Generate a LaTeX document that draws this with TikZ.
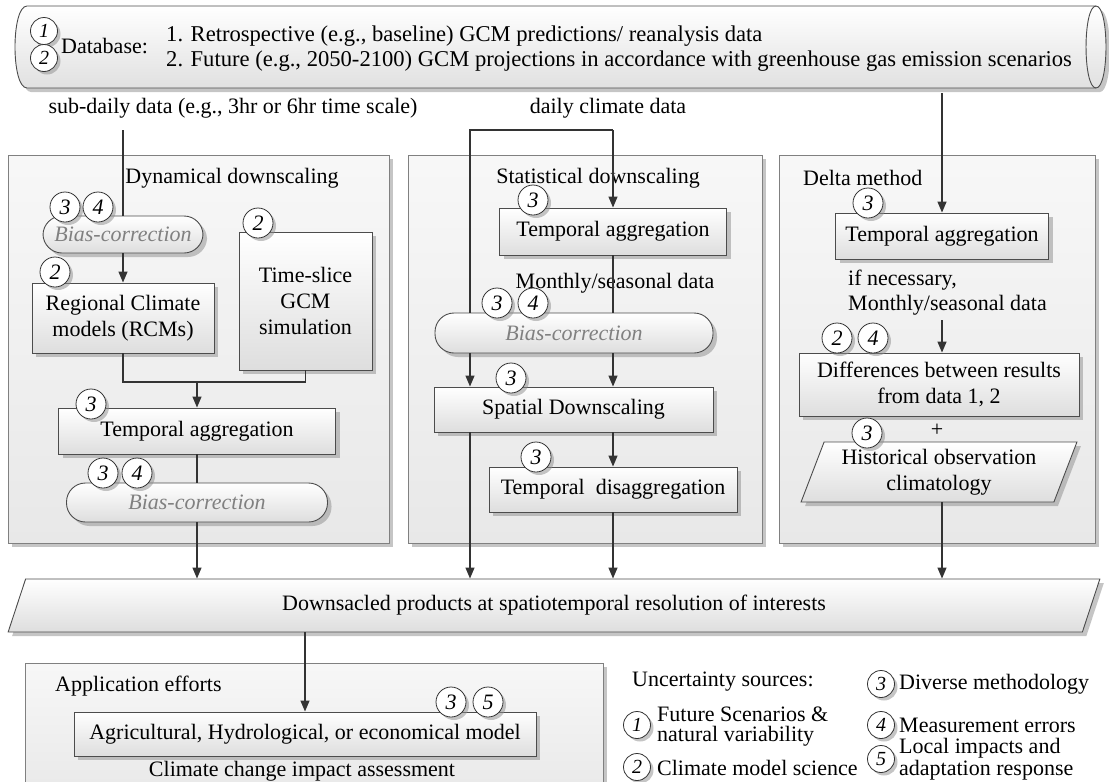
\documentclass[tikz,border=0pt]{standalone}
\usepackage{fontspec}
\setmainfont{Liberation Serif}
\usetikzlibrary{shapes.geometric,shadows,arrows.meta,calc}
\begin{document}
\begin{tikzpicture}[x=1pt,y=-1pt,
  font=\fontsize{22}{26}\selectfont,
  ln/.style={draw=black!80, line width=1.3pt},
  arr/.style={ln, -{Triangle[length=11pt,width=9pt]}},
  shad/.style={drop shadow={shadow xshift=4pt,shadow yshift=-4pt,fill=black!45,opacity=0.5}},
  container/.style={draw=black!50, line width=0.8pt, top color=black!3, bottom color=black!9, shad, inner sep=0},
  box/.style={draw=black!70, line width=0.9pt, top color=white, bottom color=black!13, shad, align=center, inner sep=0},
  bias/.style={box, rounded corners=19pt, font=\fontsize{22}{26}\selectfont\itshape, text=black!50},
  cn/.style={circle, draw=black!80, line width=0.8pt, fill=white, minimum size=30pt, inner sep=0,
    font=\fontsize{22}{22}\selectfont\itshape,
    drop shadow={shadow xshift=3pt,shadow yshift=-3pt,fill=black!45,opacity=0.5}},
  cns/.style={cn, minimum size=27pt, font=\fontsize{20}{20}\selectfont\itshape},
  lab/.style={inner sep=0, align=center},
  labl/.style={inner sep=0, anchor=west, align=left},
]
\useasboundingbox (0,0) rectangle (1109,782);

% ---------- database cylinder ----------
\path[shad, draw=black!70, line width=0.9pt, top color=white, bottom color=black!12]
  (27,6) -- (1096,6) .. controls (1109.3,6) and (1109.3,88) .. (1096,88)
  -- (27,88) .. controls (11,88) and (11,6) .. (27,6) -- cycle;
\draw[black!70, line width=0.9pt] (1096,6) .. controls (1082.7,6) and (1082.7,88) .. (1096,88);
\node[cns] (db1) at (44,31) {1};
\node[cns] (db2) at (44,58) {2};
\node[labl] (dbl) at (61,46) {Database:};
\node[labl, font=\fontsize{22.6}{26}\selectfont] (dl1) at (166,36) {1. Retrospective (e.g., baseline) GCM predictions/ reanalysis data};
\node[labl, font=\fontsize{22.6}{26}\selectfont] (dl2) at (166,61) {2. Future (e.g., 2050-2100) GCM projections in accordance with greenhouse gas emission scenarios};

% ---------- containers ----------
\node[container, minimum width=381pt, minimum height=388pt] (dyn) at (198.5,349) {};
\node[container, minimum width=354pt, minimum height=388pt] (stat) at (585,349) {};
\node[container, minimum width=316pt, minimum height=388pt] (delta) at (937,349) {};
\node[container, minimum width=578pt, minimum height=137pt] (app) at (314,731.5) {};

% ---------- labels ----------
\node[lab] (sub) at (233,108) {sub-daily data (e.g., 3hr or 6hr time scale)};
\node[lab] (daily) at (608,108) {daily climate data};
\node[lab] (dynl) at (232,178) {Dynamical downscaling};
\node[lab] (statl) at (598,178) {Statistical downscaling};
\node[labl] (deltal) at (803,178) {Delta method};
\node[lab] (msd) at (615,283) {Monthly/seasonal data};
\node[labl] (ifn) at (848,280) {if necessary,};
\node[labl] (msd2) at (848,305) {Monthly/seasonal data};
\node[lab] (plus) at (937,430) {+};
\node[labl] (appl) at (55,686) {Application efforts};
\node[lab] (cci) at (302,771) {Climate change impact assessment};

% ---------- free coordinates ----------
\coordinate (s1) at (123,130);
\coordinate (j1) at (197,382);
\coordinate (d1) at (613,130);
\coordinate (d2) at (470,130);
\coordinate (e1) at (942,93);
\coordinate (e2) at (942,320);

% ---------- boxes ----------
\node[bias, minimum width=160pt, minimum height=37pt] (b1) at (123,234.5) {Bias-correction};
\node[box, minimum width=182pt, minimum height=70pt] (rcm) at (123,318) {Regional Climate\\models (RCMs)};
\node[box, minimum width=133pt, minimum height=138pt] (ts) at (305.5,301) {Time-slice\\GCM\\simulation};
\node[box, minimum width=277pt, minimum height=46pt] (ta1) at (197,431) {Temporal aggregation};
\node[bias, minimum width=261pt, minimum height=39pt] (b2) at (197,502.5) {Bias-correction};

\node[box, minimum width=227pt, minimum height=47pt] (ta2) at (613,231.5) {Temporal aggregation};
\node[bias, minimum width=278pt, minimum height=40pt] (b3) at (574,333) {Bias-correction};
\node[box, minimum width=279pt, minimum height=45pt] (sd) at (573.5,409.5) {Spatial Downscaling};
\node[box, minimum width=248pt, minimum height=45pt] (td) at (613,489.5) {Temporal\ \ disaggregation};

\node[box, minimum width=213pt, minimum height=46pt] (ta3) at (942,236) {Temporal aggregation};
\node[box, minimum width=280pt, minimum height=63pt] (diff) at (939,384.5) {Differences between results\\from data 1, 2};
\node[box, trapezium, trapezium left angle=67, trapezium right angle=113, trapezium stretches=true,
  minimum width=276pt, minimum height=60pt] (hist) at (939,472) {Historical observation\\climatology};

\node[box, trapezium, trapezium left angle=66, trapezium right angle=114, trapezium stretches=true,
  minimum width=1098pt, minimum height=53pt] (prod) at (554,605.5) {Downsacled products at spatiotemporal resolution of interests};

\node[box, minimum width=462pt, minimum height=44pt] (agri) at (305,734) {Agricultural, Hydrological, or economical model};

% ---------- connectors ----------
\draw[ln] (s1) -- (b1.north);
\draw[arr] (b1.south) -- (rcm.north);
\draw[ln] (rcm.south) |- (j1) -| (ts.south);
\draw[arr] (j1) -- (ta1.north);
\draw[ln] (ta1.south) -- (b2.north);
\draw[arr] (b2.south) -- (b2.south |- prod.north);

\draw[arr] (d1) -- (ta2.north);
\draw[ln] (d1) -- (d2) -- (d2 |- b3.north);
\draw[ln] (ta2.south) -- (ta2.south |- b3.north);
\draw[arr] (b3.south -| d2) -- (sd.north -| d2);
\draw[arr] (b3.south -| ta2.south) -- (sd.north -| ta2.south);
\draw[arr] (sd.south -| td.north) -- (td.north);
\draw[arr] (sd.south -| d2) -- (prod.north -| d2);
\draw[arr] (td.south) -- (td.south |- prod.north);

\draw[arr] (e1) -- (ta3.north);
\draw[arr] (e2) -- (e2 |- diff.north);
\draw[arr] (hist.south -| e2) -- (prod.north -| e2);

\draw[arr] (prod.south -| agri.north) -- (agri.north);

% ---------- uncertainty circles ----------
\node[cn] (c3a) at (65,207) {3};
\node[cn] (c4a) at (98,207) {4};
\node[cn] (c2a) at (55,272) {2};
\node[cn] (c2b) at (258,223) {2};
\node[cn] (c3b) at (91,404) {3};
\node[cn] (c3c) at (103,473) {3};
\node[cn] (c4b) at (137,473) {4};
\node[cn] (c3d) at (533,200) {3};
\node[cn] (c3e) at (497,303) {3};
\node[cn] (c4c) at (533,303) {4};
\node[cn] (c3f) at (511,378) {3};
\node[cn] (c3g) at (536,457) {3};
\node[cn] (c3h) at (868,203) {3};
\node[cn] (c2c) at (837,338) {2};
\node[cn] (c4d) at (873,338) {4};
\node[cn] (c3j) at (867,433) {3};
\node[cn] (c3i) at (451,702) {3};
\node[cn] (c5a) at (488,702) {5};

% ---------- legend ----------
\node[labl] (unc) at (632,682) {Uncertainty sources:};
\node[cns] (lg3) at (881,684) {3};
\node[labl] (lg3t) at (899,684) {Diverse methodology};
\node[cns] (lg1) at (637,725) {1};
\node[labl] (lg1t) at (657,714) {Future Scenarios \&};
\node[labl] (lg1u) at (657,736) {natural variability};
\node[cns] (lg2) at (637,767) {2};
\node[labl] (lg2t) at (657,768) {Climate model science};
\node[cns] (lg4) at (881,725) {4};
\node[labl] (lg4t) at (899,725) {Measurement errors};
\node[cns] (lg5) at (881,759) {5};
\node[labl] (lg5t) at (899,748) {Local impacts and};
\node[labl] (lg5u) at (899,770) {adaptation response};
\end{tikzpicture}
\end{document}
